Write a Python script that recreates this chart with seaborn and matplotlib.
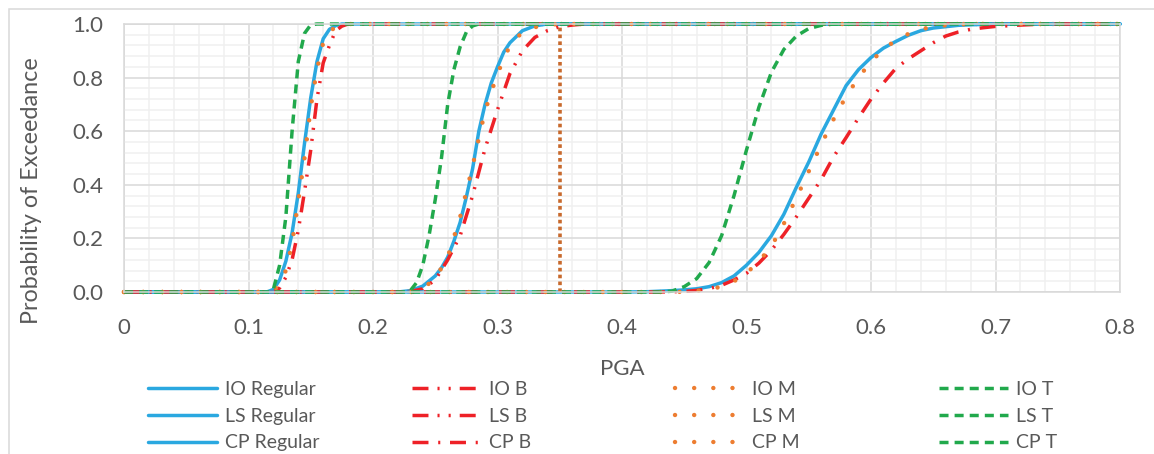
import matplotlib
matplotlib.use("Agg")
import matplotlib.pyplot as plt
import matplotlib.patches as mpatches
from matplotlib.ticker import MultipleLocator
import seaborn as sns

# --- dados (PGA x probabilidade de excedência) ---
io_reg_x = [0, 0.115, 0.12, 0.125, 0.13, 0.135, 0.14, 0.145, 0.15, 0.155, 0.16, 0.165, 0.17, 0.175, 0.8]
io_reg_y = [0, 0, 0.01, 0.045, 0.115, 0.22, 0.37, 0.555, 0.725, 0.86, 0.945, 0.98, 0.994, 1.0, 1.0]
io_b_x = [0, 0.12, 0.125, 0.13, 0.135, 0.14, 0.145, 0.15, 0.155, 0.16, 0.165, 0.17, 0.175, 0.18, 0.8]
io_b_y = [0, 0, 0.015, 0.055, 0.12, 0.23, 0.375, 0.53, 0.72, 0.855, 0.92, 0.975, 0.992, 1.0, 1.0]
io_m_x = [0, 0.115, 0.12, 0.125, 0.13, 0.135, 0.14, 0.145, 0.15, 0.155, 0.16, 0.165, 0.17, 0.175, 0.18, 0.8]
io_m_y = [0, 0, 0.005, 0.03, 0.08, 0.18, 0.34, 0.50, 0.69, 0.83, 0.93, 0.97, 0.99, 0.998, 1.0, 1.0]
io_t_x = [0, 0.115, 0.12, 0.125, 0.13, 0.135, 0.14, 0.145, 0.15, 0.155, 0.8]
io_t_y = [0, 0, 0.01, 0.10, 0.28, 0.60, 0.86, 0.965, 0.997, 1.0, 1.0]

ls_reg_x = [0, 0.22, 0.23, 0.24, 0.25, 0.255, 0.26, 0.265, 0.27, 0.275, 0.28, 0.285, 0.29, 0.295,
            0.30, 0.305, 0.31, 0.32, 0.33, 0.34, 0.8]
ls_reg_y = [0, 0, 0.005, 0.022, 0.06, 0.09, 0.13, 0.19, 0.26, 0.355, 0.46, 0.60, 0.70, 0.78,
            0.84, 0.895, 0.93, 0.975, 0.993, 1.0, 1.0]
ls_b_x = [0, 0.22, 0.23, 0.24, 0.25, 0.26, 0.27, 0.28, 0.29, 0.30, 0.31, 0.32, 0.33, 0.34, 0.35, 0.36, 0.37, 0.8]
ls_b_y = [0, 0, 0.002, 0.012, 0.045, 0.12, 0.21, 0.36, 0.535, 0.68, 0.815, 0.90, 0.95, 0.975, 0.99, 0.996, 1.0, 1.0]
ls_m_x = [0, 0.22, 0.23, 0.24, 0.25, 0.26, 0.27, 0.28, 0.29, 0.30, 0.31, 0.32, 0.33, 0.34, 0.35, 0.8]
ls_m_y = [0, 0, 0.002, 0.013, 0.05, 0.13, 0.28, 0.47, 0.675, 0.815, 0.92, 0.97, 0.988, 0.997, 1.0, 1.0]
ls_t_x = [0, 0.225, 0.23, 0.235, 0.24, 0.245, 0.25, 0.255, 0.26, 0.265, 0.27, 0.275, 0.28, 0.285, 0.8]
ls_t_y = [0, 0, 0.005, 0.035, 0.10, 0.21, 0.345, 0.50, 0.70, 0.83, 0.915, 0.97, 0.993, 1.0, 1.0]
# linha vertical pontilhada em PGA = 0.35
corte_x = [0.35, 0.35]
corte_y = [0.0, 1.0]

cp_reg_x = [0, 0.40, 0.42, 0.43, 0.44, 0.45, 0.46, 0.47, 0.48, 0.49, 0.50, 0.51, 0.52, 0.53, 0.54, 0.55,
            0.56, 0.57, 0.58, 0.59, 0.60, 0.61, 0.62, 0.63, 0.64, 0.65, 0.66, 0.67, 0.68, 0.70, 0.8]
cp_reg_y = [0, 0, 0.001, 0.003, 0.005, 0.008, 0.012, 0.02, 0.035, 0.06, 0.10, 0.148, 0.21, 0.29, 0.39, 0.485,
            0.59, 0.68, 0.77, 0.83, 0.875, 0.91, 0.935, 0.958, 0.975, 0.985, 0.99, 0.995, 0.997, 1.0, 1.0]
cp_b_x = [0, 0.43, 0.44, 0.45, 0.46, 0.47, 0.48, 0.49, 0.50, 0.51, 0.52, 0.53, 0.54, 0.55, 0.56, 0.57,
          0.58, 0.59, 0.60, 0.61, 0.62, 0.63, 0.64, 0.65, 0.66, 0.67, 0.68, 0.69, 0.70, 0.72, 0.74, 0.8]
cp_b_y = [0, 0, 0.001, 0.002, 0.006, 0.013, 0.025, 0.045, 0.07, 0.108, 0.156, 0.215, 0.28, 0.35, 0.42, 0.505,
          0.576, 0.65, 0.72, 0.78, 0.835, 0.87, 0.90, 0.93, 0.955, 0.97, 0.98, 0.986, 0.991, 0.996, 1.0, 1.0]
cp_m_x = [0, 0.44, 0.45, 0.46, 0.47, 0.48, 0.49, 0.50, 0.51, 0.52, 0.53, 0.54, 0.55, 0.56, 0.57, 0.58,
          0.59, 0.60, 0.61, 0.62, 0.63, 0.64, 0.65, 0.66, 0.67, 0.68, 0.8]
cp_m_y = [0, 0, 0.001, 0.004, 0.01, 0.02, 0.04, 0.07, 0.115, 0.17, 0.255, 0.35, 0.45, 0.55, 0.645, 0.73,
          0.80, 0.86, 0.905, 0.94, 0.963, 0.98, 0.99, 0.995, 0.998, 1.0, 1.0]
cp_t_x = [0, 0.43, 0.44, 0.45, 0.46, 0.47, 0.48, 0.49, 0.50, 0.51, 0.52, 0.53, 0.54, 0.55, 0.56, 0.57, 0.8]
cp_t_y = [0, 0, 0.003, 0.02, 0.05, 0.11, 0.21, 0.36, 0.53, 0.69, 0.82, 0.905, 0.955, 0.983, 0.995, 1.0, 1.0]

x_ticks = [0, 0.1, 0.2, 0.3, 0.4, 0.5, 0.6, 0.7, 0.8]
x_tick_labels = ["0", "0.1", "0.2", "0.3", "0.4", "0.5", "0.6", "0.7", "0.8"]
y_ticks = [0.0, 0.2, 0.4, 0.6, 0.8, 1.0]
y_tick_labels = ["0.0", "0.2", "0.4", "0.6", "0.8", "1.0"]

# --- estilos ---
AZUL = "#2AA8E0"
VERMELHO = "#EE2127"
LARANJA = "#ED7D31"
VERDE = "#21A94C"
CINZA_TXT = "#595959"

estilo = {
    "reg": dict(color=AZUL, linestyle="-", linewidth=2.5),
    "b2": dict(color=VERMELHO, linewidth=2.5, linestyle=(0, (4.6, 2.6, 0.6, 2.6, 0.6, 2.6))),
    "b1": dict(color=VERMELHO, linewidth=2.5, linestyle=(0, (4.6, 2.8, 0.6, 2.8))),
    "m": dict(color=LARANJA, linewidth=3.2, linestyle=(0, (0.01, 4.3)), dash_capstyle="round"),
    "t": dict(color=VERDE, linewidth=2.5, linestyle=(0, (2.6, 1.75))),
}

series = [
    ("IO Regular", io_reg_x, io_reg_y, "reg"), ("IO B", io_b_x, io_b_y, "b2"),
    ("IO M", io_m_x, io_m_y, "m"), ("IO T", io_t_x, io_t_y, "t"),
    ("LS Regular", ls_reg_x, ls_reg_y, "reg"), ("LS B", ls_b_x, ls_b_y, "b2"),
    ("LS M", ls_m_x, ls_m_y, "m"), ("LS T", ls_t_x, ls_t_y, "t"),
    ("CP Regular", cp_reg_x, cp_reg_y, "reg"), ("CP B", cp_b_x, cp_b_y, "b1"),
    ("CP M", cp_m_x, cp_m_y, "m"), ("CP T", cp_t_x, cp_t_y, "t"),
]

sns.set_theme(style="white")
plt.rcParams["font.family"] = ["Lato", "DejaVu Sans"]

fig = plt.figure(figsize=(11.54, 4.54), dpi=100)
ax = fig.add_axes([124 / 1154, 1 - 292 / 454, 996 / 1154, 268 / 454])

linhas = {}
for nome, xs, ys, st in series:
    sns.lineplot(x=xs, y=ys, ax=ax, estimator=None, sort=False, legend=False,
                 clip_on=False, **estilo[st])
    linhas[nome] = ax.lines[-1]

sns.lineplot(x=corte_x, y=corte_y, ax=ax, estimator=None, sort=False, legend=False,
             color="#C8692C", linewidth=2.6, linestyle=(0, (1, 0.9)), clip_on=False)

ax.set_xlim(0, 0.8)
ax.set_ylim(0, 1)
ax.set_xticks(x_ticks)
ax.set_xticklabels(x_tick_labels)
ax.set_yticks(y_ticks)
ax.set_yticklabels(y_tick_labels)
ax.xaxis.set_minor_locator(MultipleLocator(0.02))
ax.yaxis.set_minor_locator(MultipleLocator(0.04))
ax.grid(which="major", color="#D9D9D9", linewidth=1.1)
ax.grid(which="minor", color="#F0F0F0", linewidth=1.1)
ax.set_axisbelow(True)
ax.tick_params(which="both", length=0, labelsize=16, labelcolor=CINZA_TXT)
ax.tick_params(axis="x", pad=19)
ax.tick_params(axis="y", pad=15)
for sp in ax.spines.values():
    sp.set_color("#D9D9D9")
    sp.set_linewidth(1.1)

ax.set_xlabel("PGA", fontsize=16, color=CINZA_TXT)
ax.set_ylabel("Probability of Exceedance", fontsize=16.8, color=CINZA_TXT)
ax.xaxis.set_label_coords(0.5, -0.25)
ax.yaxis.set_label_coords(-0.082, 0.38)

# legenda em 4 colunas igualmente espaçadas
colunas = [
    (148, ["IO Regular", "LS Regular", "CP Regular"]),
    (412, ["IO B", "LS B", "CP B"]),
    (675, ["IO M", "LS M", "CP M"]),
    (939, ["IO T", "LS T", "CP T"]),
]
for x0, nomes in colunas:
    fig.legend([linhas[n] for n in nomes], nomes, loc="upper left",
               bbox_to_anchor=(x0 / 1154, 1 - 381 / 454), bbox_transform=fig.transFigure,
               frameon=False, borderpad=0, borderaxespad=0, fontsize=14,
               handlelength=3.55, handletextpad=0.42, labelspacing=0.5,
               labelcolor=CINZA_TXT)

# moldura do gráfico
fig.add_artist(mpatches.Rectangle((9 / 1154, -0.2), 2, 1.2 - 9 / 454, transform=fig.transFigure,
                                  fill=False, edgecolor="#D9D9D9", linewidth=1.1))

fig.savefig("out.png", dpi=100)
